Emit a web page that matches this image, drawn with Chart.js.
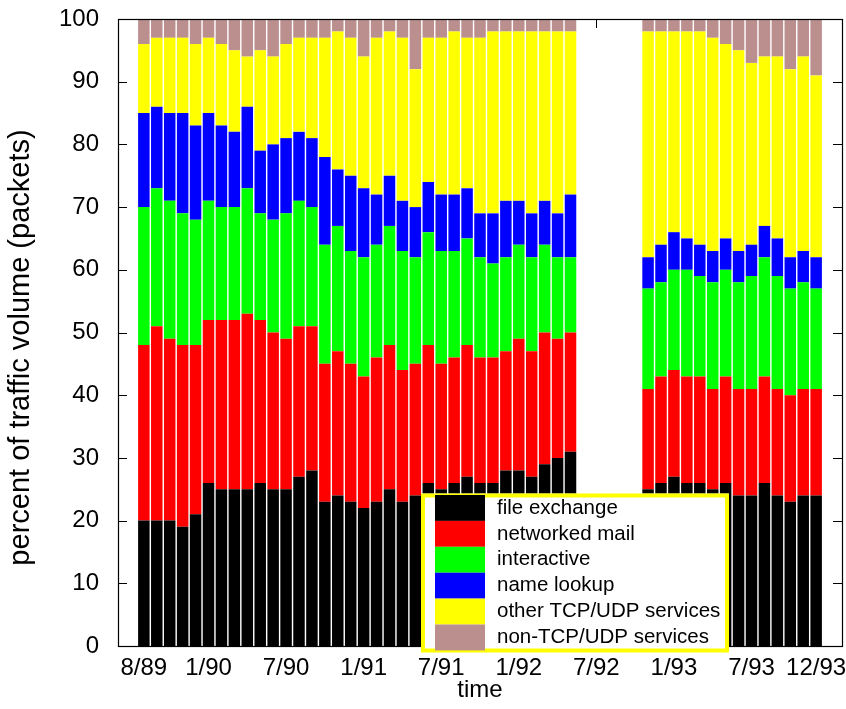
<!DOCTYPE html>
<html>
<head>
<meta charset="utf-8">
<script src="https://cdn.jsdelivr.net/npm/chart.js@4/dist/chart.umd.min.js"></script>
<style>
html, body { margin: 0; padding: 0; background: #fff; }
</style>
</head>
<body>
<canvas id="chart" width="846" height="709"></canvas>
<script>
const months = [
    '8/89', '9/89', '10/89', '11/89', '12/89',
    '1/90', '2/90', '3/90', '4/90', '5/90', '6/90', '7/90', '8/90', '9/90', '10/90', '11/90', '12/90',
    '1/91', '2/91', '3/91', '4/91', '5/91', '6/91', '7/91', '8/91', '9/91', '10/91', '11/91', '12/91',
    '1/92', '2/92', '3/92', '4/92', '5/92', '6/92', '7/92', '8/92', '9/92', '10/92', '11/92', '12/92',
    '1/93', '2/93', '3/93', '4/93', '5/93', '6/93', '7/93', '8/93', '9/93', '10/93', '11/93', '12/93'
];
const tickLabels = ['8/89', '1/90', '7/90', '1/91', '7/91', '1/92', '7/92', '1/93', '7/93', '12/93'];
const yTitle = 'percent of traffic volume (packets)';

// percent of packets per month, no data for 6/92 - 10/92
const fileExchange = [20, 20, 20, 19, 21, 26, 25, 25, 25, 26, 25, 25, 27, 28, 23, 24, 23, 22, 23, 25, 23, 24, 26, 25, 26, 27, 26, 26, 28, 28, 27, 29, 30, 31,
    null, null, null, null, null,
    25, 26, 27, 26, 26, 25, 26, 24, 24, 26, 24, 23, 24, 24];
const networkedMail = [28, 31, 29, 29, 27, 26, 27, 27, 28, 26, 25, 24, 24, 23, 22, 23, 22, 21, 23, 23, 21, 21, 22, 20, 20, 21, 20, 20, 19, 21, 20, 21, 19, 19,
    null, null, null, null, null,
    16, 17, 17, 17, 17, 16, 17, 17, 17, 17, 17, 17, 17, 17];
const interactive = [22, 22, 22, 21, 20, 19, 18, 18, 20, 17, 18, 20, 20, 19, 19, 20, 18, 19, 18, 19, 19, 17, 18, 18, 17, 17, 16, 15, 15, 15, 15, 14, 13, 12,
    null, null, null, null, null,
    16, 15, 16, 17, 16, 17, 17, 17, 18, 19, 18, 17, 17, 16];
const nameLookup = [15, 13, 14, 16, 15, 14, 13, 12, 13, 10, 12, 12, 11, 11, 14, 9, 12, 11, 8, 8, 8, 8, 8, 9, 9, 8, 7, 8, 9, 7, 7, 7, 7, 10,
    null, null, null, null, null,
    5, 6, 6, 5, 5, 5, 5, 5, 5, 5, 6, 5, 5, 5];
const otherTcpUdp = [11, 11, 12, 12, 13, 12, 13, 13, 8, 16, 14, 15, 15, 16, 19, 22, 22, 21, 25, 23, 26, 22, 23, 25, 26, 24, 28, 29, 27, 27, 29, 27, 29, 26,
    null, null, null, null, null,
    36, 34, 32, 33, 34, 34, 31, 32, 29, 27, 29, 30, 31, 29];
const nonTcpUdp = [4, 3, 3, 3, 4, 3, 4, 5, 6, 5, 6, 4, 3, 3, 3, 2, 3, 6, 3, 2, 3, 8, 3, 3, 2, 3, 3, 2, 2, 2, 2, 2, 2, 2,
    null, null, null, null, null,
    2, 2, 2, 2, 2, 3, 4, 5, 7, 6, 6, 8, 6, 9];

const seriesNames = ['file exchange', 'networked mail', 'interactive', 'name lookup', 'other TCP/UDP services', 'non-TCP/UDP services'];
const seriesValues = [fileExchange, networkedMail, interactive, nameLookup, otherTcpUdp, nonTcpUdp];
const seriesColors = ['#000000', '#ff0000', '#00ff00', '#0000ff', '#ffff00', '#bc8f8f'];

const fontFamily = '"Liberation Sans", Arial, sans-serif';
const font = { family: fontFamily, size: 24 };

// inward tick marks (under the bars) and the box frame (over them)
const frameTicks = {
    id: 'frameTicks',
    beforeDatasetsDraw(chart) {
        const { ctx, chartArea: a, scales: { x, y } } = chart;
        ctx.save();
        ctx.strokeStyle = '#000';
        ctx.lineWidth = 1;
        ctx.beginPath();
        y.ticks.forEach(t => {
            const py = Math.round(y.getPixelForValue(t.value)) + 0.5;
            ctx.moveTo(a.left, py); ctx.lineTo(a.left + 9, py);
            ctx.moveTo(a.right, py); ctx.lineTo(a.right - 9, py);
        });
        x.ticks.forEach(t => {
            const px = Math.round(x.getPixelForValue(t.value)) + 0.5;
            ctx.moveTo(px, a.bottom); ctx.lineTo(px, a.bottom - 9);
            ctx.moveTo(px, a.top); ctx.lineTo(px, a.top + 9);
        });
        ctx.stroke();
        ctx.restore();
    },
    afterDatasetsDraw(chart) {
        const { ctx, chartArea: a } = chart;
        ctx.save();
        ctx.strokeStyle = '#000';
        ctx.lineWidth = 1.2;
        ctx.strokeRect(Math.round(a.left) + 0.5, Math.round(a.top) + 0.5, Math.round(a.right - a.left), Math.round(a.bottom - a.top));
        // y label sits a bit below the middle of the axis, as in the original
        ctx.translate(21, (a.top + a.bottom) / 2 + 15);
        ctx.rotate(-Math.PI / 2);
        ctx.font = '29px ' + fontFamily;
        ctx.fillStyle = '#000';
        ctx.textAlign = 'center';
        ctx.textBaseline = 'middle';
        ctx.fillText(yTitle, 0, 0);
        ctx.restore();
    }
};

// gnuplot style key: white box, yellow border, inside the plot
const boxLegend = {
    id: 'boxLegend',
    afterDraw(chart) {
        const ctx = chart.ctx;
        const bx = 421, by = 493.5, bw = 308, bh = 159;
        const rowH = 25.9;
        ctx.save();
        ctx.fillStyle = '#fff';
        ctx.fillRect(bx, by, bw, bh);
        ctx.strokeStyle = '#ffff00';
        ctx.lineWidth = 4;
        ctx.strokeRect(bx + 2, by + 2, bw - 4, bh - 4);
        ctx.font = '20.5px ' + fontFamily;
        ctx.textBaseline = 'middle';
        chart.data.datasets.forEach((ds, i) => {
            const ry = 495 + i * rowH;
            ctx.fillStyle = ds.backgroundColor;
            ctx.fillRect(435, ry, 50, rowH);
            ctx.fillStyle = '#000';
            ctx.fillText(ds.label, 497, ry + rowH / 2);
        });
        ctx.restore();
    }
};

new Chart(document.getElementById('chart'), {
    type: 'bar',
    data: {
        datasets: seriesNames.map((name, k) => ({
            label: name,
            data: seriesValues[k].map((v, i) => ({ x: i, y: v })),
            backgroundColor: seriesColors[k],
            borderWidth: 0,
            categoryPercentage: 1,
            barPercentage: 0.89
        }))
    },
    options: {
        responsive: false,
        animation: false,
        layout: { padding: { left: 2, right: 4, top: 19, bottom: 0 } },
        plugins: {
            legend: { display: false },
            tooltip: { enabled: false }
        },
        scales: {
            x: {
                type: 'linear',
                stacked: true,
                offset: false,
                min: -2,
                max: 54,
                grid: { display: false, drawTicks: false, offset: false },
                border: { display: false },
                afterBuildTicks: s => { s.ticks = tickLabels.map(l => ({ value: months.indexOf(l) })); },
                ticks: {
                    callback: v => months[v],
                    font: font,
                    color: '#000',
                    padding: 8,
                    maxRotation: 0,
                    autoSkip: false
                },
                title: { display: true, text: 'time', font: font, color: '#000', padding: { top: 4, bottom: 4 } },
                afterFit: s => { s.height = 63; s.paddingLeft = 0; s.paddingRight = 0; }
            },
            y: {
                stacked: true,
                min: 0,
                max: 100,
                grid: { display: false, drawTicks: false },
                border: { display: false },
                ticks: { stepSize: 10, font: font, color: '#000', padding: 19 },
                title: { display: false },
                afterFit: s => { s.width = 116; s.paddingTop = 0; s.paddingBottom = 0; }
            }
        }
    },
    plugins: [frameTicks, boxLegend]
});
</script>
</body>
</html>
